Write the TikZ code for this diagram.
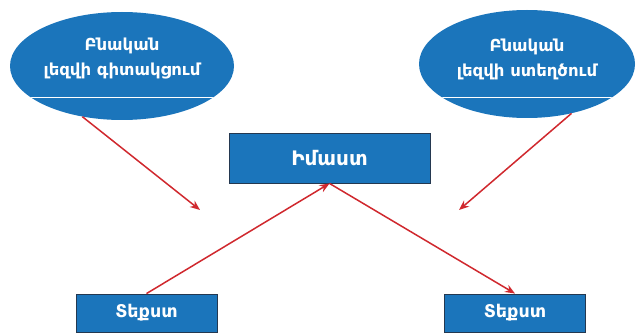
\documentclass[tikz,border=0pt]{standalone}
\usepackage{fontspec}
\setmainfont{DejaVu Sans}
\usetikzlibrary{shapes.geometric,arrows.meta}
\definecolor{fillblue}{HTML}{1B75BB}
\definecolor{edgedark}{HTML}{243850}
\definecolor{arrowred}{HTML}{D0282E}
\tikzset{
  ell/.style={ellipse, fill=fillblue, draw=none, minimum width=224pt, minimum height=108pt, inner sep=0pt},
  elltext/.style={text=white, font=\bfseries\fontsize{16.5}{25}\selectfont, align=center, inner sep=0pt},
  bigbox/.style={rectangle, fill=fillblue, draw=edgedark, line width=0.9pt, minimum width=201pt, minimum height=50pt,
    text=white, font=\bfseries\fontsize{20}{22}\selectfont},
  smallbox/.style={rectangle, fill=fillblue, draw=edgedark, line width=0.9pt, minimum width=141pt, minimum height=38pt,
    text=white, font=\bfseries\fontsize{17.5}{19}\selectfont},
  redarrow/.style={draw=arrowred, line width=1.5pt, -{Stealth[length=10pt,width=8pt]}},
  chord/.style={draw=white, line width=1pt}
}
\begin{document}
\begin{tikzpicture}[x=1pt,y=-1pt]
\useasboundingbox (0,0) rectangle (642,334);
\fill[white] (0,0) rectangle (642,334);
% ellipses
\node[ell] (u) at (122,66) {};
\node[ell, minimum width=216pt] (g) at (527,64) {};
\node[elltext] (ut) at (122,59) {Բնական\\լեզվի գիտակցում};
\node[elltext] (gt) at (527,59) {Բնական\\լեզվի ստեղծում};
\begin{scope}
  \clip (u.center) ellipse [x radius=112pt, y radius=54pt];
  \draw[chord] (0,98) -- (260,98);
\end{scope}
\begin{scope}
  \clip (g.center) ellipse [x radius=108pt, y radius=54pt];
  \draw[chord] (400,98) -- (642,98);
\end{scope}
% boxes
\node[bigbox] (m) at (329.5,158) {Իմաստ};
\node[smallbox] (t1) at (146.5,313) {Տեքստ};
\node[smallbox] (t2) at (515,313) {Տեքստ};
% free arrow ends
\coordinate (tipL) at (200,210);
\coordinate (tipR) at (459,210);
% arrows
\draw[redarrow] (u.232) -- (tipL);
\draw[redarrow] (g.-48) -- (tipR);
\draw[redarrow] (t1.north) -- (m.south);
\draw[redarrow] (m.south) -- (t2.north);
\end{tikzpicture}
\end{document}
